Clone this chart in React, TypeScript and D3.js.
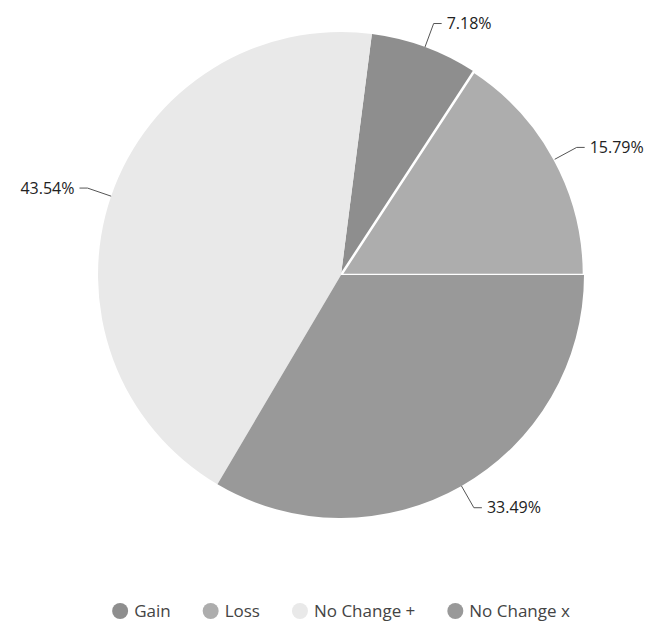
import React, { useMemo } from "react";
import * as d3 from "d3";

// Share of each outcome, in percent
const categories: string[] = ["Gain", "Loss", "No Change +", "No Change x"];
const shares: number[] = [7.18, 15.79, 43.54, 33.49];
const sliceColors: string[] = ["#8e8e8e", "#adadad", "#e9e9e9", "#999999"];
// Loss carries the white outline that separates it from its neighbours
const sliceStrokes: number[] = [0, 2.5, 0, 0];

const WIDTH = 649;
const HEIGHT = 627;
const CX = 341;
const CY = 275;
const RADIUS = 243;
const START = (7.3 * Math.PI) / 180;
const FONT = "'Open Sans', 'DejaVu Sans', sans-serif";

function measure(text: string, size: number): number {
  const canvas = document.createElement("canvas");
  const ctx = canvas.getContext("2d");
  if (!ctx) return text.length * size * 0.55;
  ctx.font = `${size}px ${FONT}`;
  return ctx.measureText(text).width;
}

export default function App() {
  // Slices run clockwise from smallest to largest share; the returned
  // array stays in data order
  const arcs = useMemo(() => {
    const pie = d3
      .pie<number>()
      .value((d) => d)
      .sort((a, b) => a - b)
      .startAngle(START)
      .endAngle(START + 2 * Math.PI);
    return pie(shares);
  }, []);

  const arcGen = d3.arc<d3.PieArcDatum<number>>().innerRadius(0).outerRadius(RADIUS);

  // Leader line: radial segment out of the rim, then a short horizontal hook
  const labels = arcs.map((a, i) => {
    const mid = (a.startAngle + a.endAngle) / 2;
    const sx = Math.sin(mid);
    const sy = -Math.cos(mid);
    const p0 = [CX + sx * RADIUS, CY + sy * RADIUS];
    const p1 = [CX + sx * (RADIUS + 25), CY + sy * (RADIUS + 25)];
    const right = sx >= 0;
    const p2 = [p1[0] + (right ? 8 : -8), p1[1]];
    const tx = p2[0] + (right ? 5 : -5);
    return { i, p0, p1, p2, tx, right, text: `${shares[i].toFixed(2)}%` };
  });

  // Centered legend row
  const legendSize = 17;
  const markerR = 8;
  const markerGap = 6;
  const itemGap = 32;
  const widths = categories.map((c) => measure(c, legendSize));
  const total =
    widths.reduce((s, w) => s + w, 0) +
    categories.length * (markerR * 2 + markerGap) +
    (categories.length - 1) * itemGap;
  let cursor = CX - total / 2;
  const legendItems = categories.map((c, i) => {
    const x = cursor;
    cursor += markerR * 2 + markerGap + widths[i] + itemGap;
    return { c, i, x };
  });
  const legendY = 611;

  return (
    <div style={{ position: "absolute", left: 0, top: 0 }}>
      <svg width={WIDTH} height={HEIGHT} style={{ display: "block", background: "#fff" }}>
        <g transform={`translate(${CX},${CY})`}>
          {arcs.map((a, i) => (
            <path
              key={categories[i]}
              d={arcGen(a) || ""}
              fill={sliceColors[i]}
              stroke={sliceStrokes[i] > 0 ? "#fff" : "none"}
              strokeWidth={sliceStrokes[i]}
              strokeLinejoin="round"
            />
          ))}
        </g>
        {labels.map((l) => (
          <g key={`lbl-${l.i}`}>
            <polyline
              points={`${l.p0[0]},${l.p0[1]} ${l.p1[0]},${l.p1[1]} ${l.p2[0]},${l.p2[1]}`}
              fill="none"
              stroke="#555"
              strokeWidth={1}
            />
            <text
              x={l.tx}
              y={l.p2[1]}
              dy="0.35em"
              textAnchor={l.right ? "start" : "end"}
              fontFamily={FONT}
              fontSize={16}
              fill="#222"
            >
              {l.text}
            </text>
          </g>
        ))}
        {legendItems.map((it) => (
          <g key={`leg-${it.i}`} transform={`translate(${it.x},${legendY})`}>
            <circle cx={markerR} cy={0} r={markerR} fill={sliceColors[it.i]} />
            <text
              x={markerR * 2 + markerGap}
              y={0}
              dy="0.35em"
              fontFamily={FONT}
              fontSize={legendSize}
              fill="#444"
            >
              {it.c}
            </text>
          </g>
        ))}
      </svg>
    </div>
  );
}
